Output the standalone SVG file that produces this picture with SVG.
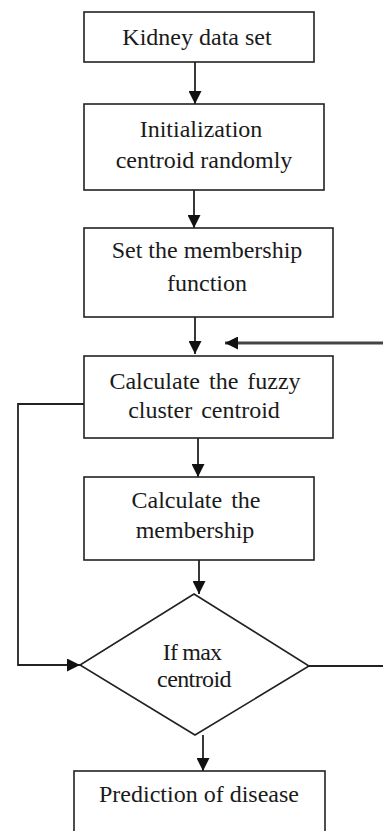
<svg xmlns="http://www.w3.org/2000/svg" width="383" height="831" viewBox="0 0 383 831">
<style>
.box{fill:#fff;stroke:#222;stroke-width:1.6}
.t{font-family:"Liberation Serif","Times New Roman",serif;font-size:24px;fill:#1a1a1a;text-anchor:middle}
.c{fill:none;stroke:#222;stroke-width:1.8}
</style>
<defs>
<marker id="ah" markerWidth="14" markerHeight="13" refX="13" refY="6.5" orient="auto" markerUnits="userSpaceOnUse">
<path d="M0,0 L13,6.5 L0,13 Z" fill="#111"/>
</marker>
</defs>
<rect width="383" height="831" fill="#fff"/>
<g id="connectors">
<line class="c" x1="195" y1="62" x2="195" y2="104" marker-end="url(#ah)"/>
<line class="c" x1="194" y1="190" x2="194" y2="228" marker-end="url(#ah)"/>
<line class="c" x1="195" y1="317" x2="195" y2="354" marker-end="url(#ah)"/>
<line x1="383" y1="343" x2="225" y2="343" stroke="#444" stroke-width="2.8" marker-end="url(#ah)"/>
<polyline class="c" points="84,404 18,404 18,665 80,665" marker-end="url(#ah)"/>
<line class="c" x1="198" y1="438" x2="198" y2="477" marker-end="url(#ah)"/>
<line class="c" x1="199" y1="560" x2="199" y2="594" marker-end="url(#ah)"/>
<line class="c" x1="309" y1="666" x2="383" y2="666"/>
<line class="c" x1="203" y1="735" x2="203" y2="771" marker-end="url(#ah)"/>
</g>
<g id="n1">
<rect class="box" x="84" y="12" width="230" height="50"/>
<text class="t" x="197" y="45">Kidney data set</text>
</g>
<g id="n2">
<rect class="box" x="84" y="104" width="240" height="86"/>
<text class="t" x="201" y="137">Initialization</text>
<text class="t" x="204" y="168">centroid randomly</text>
</g>
<g id="n3">
<rect class="box" x="84" y="228" width="249" height="89"/>
<text class="t" x="207" y="258">Set the membership</text>
<text class="t" x="207" y="291">function</text>
</g>
<g id="n4">
<rect class="box" x="84" y="356" width="249" height="82"/>
<text class="t" x="205" y="389" word-spacing="3">Calculate the fuzzy</text>
<text class="t" x="204" y="418" word-spacing="3">cluster centroid</text>
</g>
<g id="n5">
<rect class="box" x="84" y="477" width="230" height="83"/>
<text class="t" x="196" y="508" word-spacing="3">Calculate the</text>
<text class="t" x="195" y="538">membership</text>
</g>
<g id="n6">
<polygon class="box" points="194,594 309,666 195,735 80,665"/>
<text class="t" x="192" y="660" font-size="22" letter-spacing="-0.8">If max</text>
<text class="t" x="194" y="687" font-size="22" letter-spacing="-0.6">centroid</text>
</g>
<g id="n7">
<rect class="box" x="74" y="771" width="251" height="70"/>
<text class="t" x="199" y="802">Prediction of disease</text>
</g>
</svg>
